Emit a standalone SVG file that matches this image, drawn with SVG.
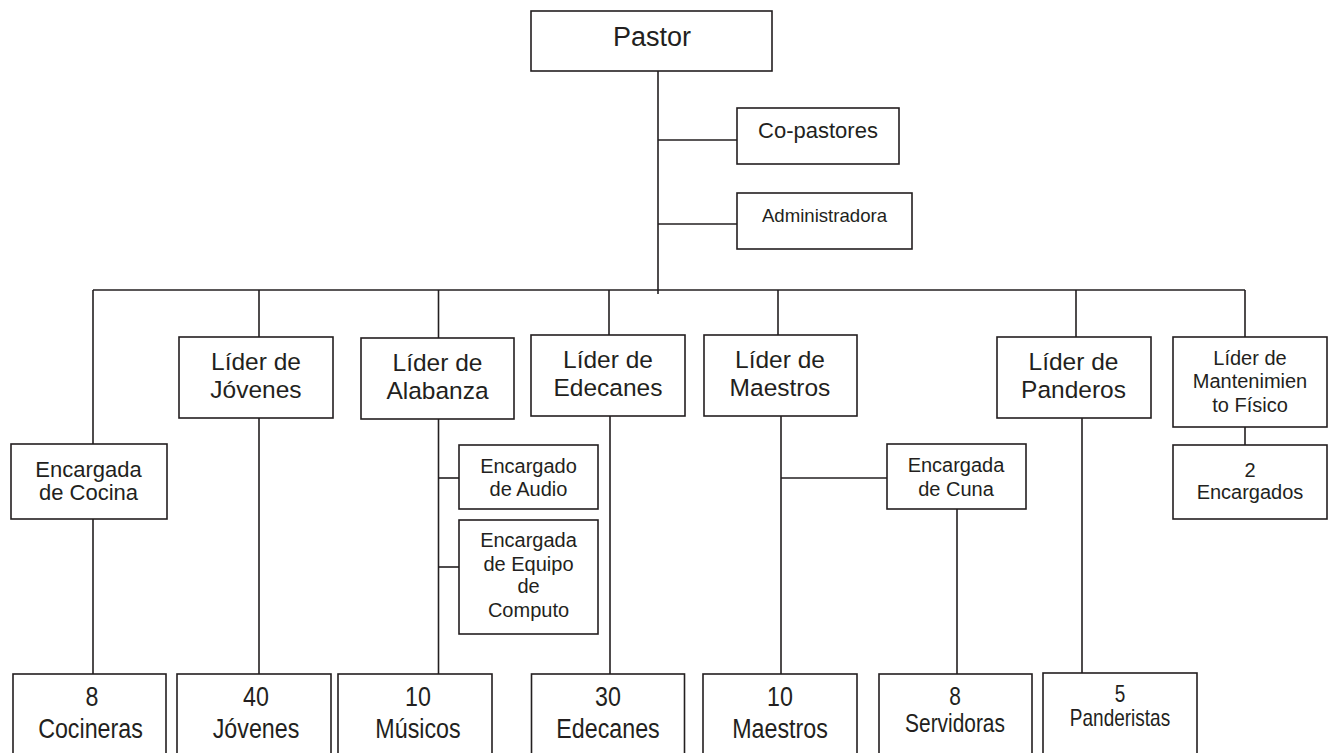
<svg xmlns="http://www.w3.org/2000/svg" width="1328" height="753" viewBox="0 0 1328 753">
<style>
  rect.box { fill: #ffffff; stroke: #231f20; stroke-width: 1.6; }
  .conn line { stroke: #231f20; stroke-width: 1.6; }
  text { font-family: "Liberation Sans", Arial, sans-serif; fill: #231f20; text-anchor: middle; }
  .f27 { font-size: 27px; }
  .f24 { font-size: 24.5px; }
  .f22 { font-size: 22px; }
  .f20 { font-size: 20px; }
  .f19 { font-size: 18.6px; }
</style>
<rect x="0" y="0" width="1328" height="753" fill="#ffffff"/>
<g id="connectors" class="conn">
  <line x1="658" y1="71" x2="658" y2="294"/>
  <line x1="658" y1="140" x2="737" y2="140"/>
  <line x1="658" y1="224" x2="737" y2="224"/>
  <line x1="93" y1="290" x2="1245" y2="290"/>
  <line x1="93" y1="290" x2="93" y2="444"/>
  <line x1="259" y1="290" x2="259" y2="337"/>
  <line x1="438.5" y1="290" x2="438.5" y2="338"/>
  <line x1="609" y1="290" x2="609" y2="335"/>
  <line x1="778" y1="290" x2="778" y2="335"/>
  <line x1="1076" y1="290" x2="1076" y2="337"/>
  <line x1="1245" y1="290" x2="1245" y2="337"/>
  <line x1="93" y1="519" x2="93" y2="674"/>
  <line x1="259" y1="418" x2="259" y2="674"/>
  <line x1="438.5" y1="419" x2="438.5" y2="674"/>
  <line x1="438.5" y1="478" x2="459" y2="478"/>
  <line x1="438.5" y1="567" x2="459" y2="567"/>
  <line x1="610" y1="416" x2="610" y2="674"/>
  <line x1="781" y1="416" x2="781" y2="674"/>
  <line x1="781" y1="478" x2="887" y2="478"/>
  <line x1="957" y1="509" x2="957" y2="674"/>
  <line x1="1082" y1="418" x2="1082" y2="673"/>
  <line x1="1245" y1="427" x2="1245" y2="445"/>
</g>
<g id="pastor">
  <rect class="box" x="531" y="11" width="241" height="60"/>
  <text class="f27" x="652" y="46">Pastor</text>
</g>
<g id="copastores">
  <rect class="box" x="737" y="108" width="162" height="56"/>
  <text class="f22" x="818" y="138">Co-pastores</text>
</g>
<g id="administradora">
  <rect class="box" x="737" y="193" width="175" height="56"/>
  <text class="f19" x="824.5" y="222">Administradora</text>
</g>
<g id="encargada-cocina">
  <rect class="box" x="11" y="444" width="156" height="75"/>
  <text class="f22" x="88.5" y="477">Encargada</text>
  <text class="f22" x="88.5" y="500">de Cocina</text>
</g>
<g id="lider-jovenes">
  <rect class="box" x="179" y="337" width="154" height="81"/>
  <text class="f24" x="256" y="370">Líder de</text>
  <text class="f24" x="256" y="398">Jóvenes</text>
</g>
<g id="lider-alabanza">
  <rect class="box" x="361" y="338" width="153" height="81"/>
  <text class="f24" x="437.5" y="371">Líder de</text>
  <text class="f24" x="437.5" y="399">Alabanza</text>
</g>
<g id="encargado-audio">
  <rect class="box" x="459" y="445" width="139" height="64"/>
  <text class="f20" x="528.5" y="473">Encargado</text>
  <text class="f20" x="528.5" y="496">de Audio</text>
</g>
<g id="encargada-computo">
  <rect class="box" x="459" y="520" width="139" height="114"/>
  <text class="f20" x="528.5" y="547">Encargada</text>
  <text class="f20" x="528.5" y="571">de Equipo</text>
  <text class="f20" x="528.5" y="593">de</text>
  <text class="f20" x="528.5" y="617">Computo</text>
</g>
<g id="lider-edecanes">
  <rect class="box" x="531" y="335" width="154" height="81"/>
  <text class="f24" x="608" y="368">Líder de</text>
  <text class="f24" x="608" y="396">Edecanes</text>
</g>
<g id="lider-maestros">
  <rect class="box" x="704" y="335" width="153" height="81"/>
  <text class="f24" x="780" y="368">Líder de</text>
  <text class="f24" x="780" y="396">Maestros</text>
</g>
<g id="encargada-cuna">
  <rect class="box" x="887" y="444" width="139" height="65"/>
  <text class="f20" x="956" y="472">Encargada</text>
  <text class="f20" x="956" y="496">de Cuna</text>
</g>
<g id="lider-panderos">
  <rect class="box" x="997" y="337" width="154" height="81"/>
  <text class="f24" x="1073.5" y="370">Líder de</text>
  <text class="f24" x="1073.5" y="398">Panderos</text>
</g>
<g id="lider-mantenimiento">
  <rect class="box" x="1173" y="337" width="154" height="90"/>
  <text class="f20" x="1250" y="365">Líder de</text>
  <text class="f20" x="1250" y="388">Mantenimien</text>
  <text class="f20" x="1250" y="412">to Físico</text>
</g>
<g id="encargados-2">
  <rect class="box" x="1173" y="445" width="154" height="74"/>
  <text class="f20" x="1250" y="477">2</text>
  <text class="f20" x="1250" y="499">Encargados</text>
</g>
<g id="cocineras">
  <rect class="box" x="13" y="674" width="153" height="100"/>
  <text class="f24" transform="translate(92,706) scale(0.95,1.15)">8</text>
  <text class="f24" transform="translate(90.5,738) scale(0.95,1.15)">Cocineras</text>
</g>
<g id="jovenes">
  <rect class="box" x="177" y="674" width="154" height="100"/>
  <text class="f24" transform="translate(256,706) scale(0.95,1.15)">40</text>
  <text class="f24" transform="translate(256,738) scale(0.95,1.15)">Jóvenes</text>
</g>
<g id="musicos">
  <rect class="box" x="338" y="674" width="154" height="100"/>
  <text class="f24" transform="translate(418,706) scale(0.95,1.15)">10</text>
  <text class="f24" transform="translate(418,738) scale(0.95,1.15)">Músicos</text>
</g>
<g id="edecanes">
  <rect class="box" x="531.5" y="674" width="153" height="100"/>
  <text class="f24" transform="translate(608,706) scale(0.95,1.15)">30</text>
  <text class="f24" transform="translate(608,738) scale(0.95,1.15)">Edecanes</text>
</g>
<g id="maestros">
  <rect class="box" x="703" y="674" width="154" height="100"/>
  <text class="f24" transform="translate(780,706) scale(0.95,1.15)">10</text>
  <text class="f24" transform="translate(780,738) scale(0.95,1.15)">Maestros</text>
</g>
<g id="servidoras">
  <rect class="box" x="879" y="674" width="153" height="100"/>
  <text class="f22" transform="translate(955,705) scale(0.95,1.15)">8</text>
  <text class="f22" transform="translate(955,732) scale(0.95,1.15)">Servidoras</text>
</g>
<g id="panderistas">
  <rect class="box" x="1043" y="673" width="154" height="100"/>
  <text class="f20" transform="translate(1120,702) scale(0.95,1.15)">5</text>
  <text class="f20" transform="translate(1120,726) scale(0.95,1.15)">Panderistas</text>
</g>
</svg>
